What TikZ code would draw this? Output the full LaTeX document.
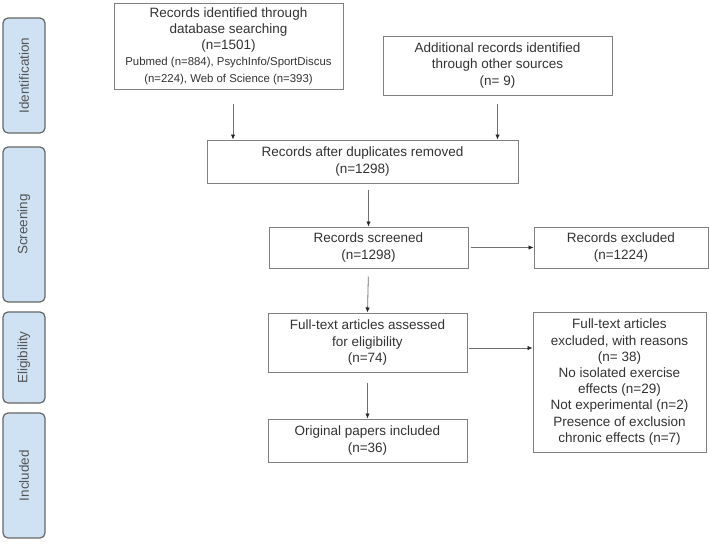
\documentclass[tikz,border=0pt]{standalone}
\usepackage{fontspec}
\setmainfont{Liberation Sans}
\usetikzlibrary{arrows.meta}
\definecolor{barblue}{HTML}{CFE2F3}
\definecolor{barline}{HTML}{666666}
\definecolor{bartxt}{HTML}{555555}
\definecolor{boxline}{HTML}{808080}
\definecolor{txt}{HTML}{333333}
\definecolor{arrline}{HTML}{707070}
\newcommand\mainf{\fontsize{13.5}{16.2}\selectfont}
\newcommand\smallf{\fontsize{11.4}{15.5}\selectfont}
\begin{document}
\begin{tikzpicture}[x=1pt,y=-1pt,
  box/.style={draw=boxline, line width=1pt, fill=white, text=txt, align=center, font=\mainf, inner sep=0pt},
  bar/.style={draw=barline, fill=barblue, line width=1.2pt, rounded corners=5pt, rotate=90, minimum height=42pt, inner sep=0pt, text=bartxt, font=\mainf},
  arr/.style={draw=arrline, line width=0.8pt, -{Latex[length=5pt,width=4.5pt,color=black!85]}}]
\useasboundingbox (0,0) rectangle (709,544);

\node[bar, minimum width=115pt] (idb) at (24,75.5) {Identification};
\node[bar, minimum width=155pt] (scb) at (24,224.5) {Screening};
\node[bar, minimum width=91pt] (elb) at (24,357.5) {Eligibility};
\node[bar, minimum width=125pt] (inb) at (24,475.5) {Included};

\node[box, minimum width=229pt, minimum height=86pt] (db) at (228.5,46)
  {Records identified through\\database searching\\(n=1501)\\{\smallf Pubmed (n=884), PsychInfo/SportDiscus}\\{\smallf (n=224), Web of Science (n=393)}};
\node[box, minimum width=229pt, minimum height=59pt] (add) at (497.5,65.5)
  {Additional records identified\\through other sources\\(n= 9)};
\node[box, minimum width=311pt, minimum height=43pt] (dup) at (362.5,161.5)
  {Records after duplicates removed\\(n=1298)};
\node[box, minimum width=199pt, minimum height=41pt] (scr) at (368.5,247.5)
  {Records screened\\(n=1298)};
\node[box, minimum width=174pt, minimum height=41pt] (exc) at (621,247.5)
  {Records excluded\\(n=1224)};
\node[box, minimum width=199pt, minimum height=59pt] (ft) at (367.5,342.5)
  {Full-text articles assessed\\for eligibility\\(n=74)};
\node[box, minimum width=173pt, minimum height=140pt] (ftx) at (619.5,382)
  {Full-text articles\\excluded, with reasons\\(n= 38)\\No isolated exercise\\effects (n=29)\\Not experimental (n=2)\\Presence of exclusion\\chronic effects (n=7)};
\node[box, minimum width=199pt, minimum height=43pt] (orig) at (367.5,440.5)
  {Original papers included\\(n=36)};

\draw[arr, shorten <=14pt] ([xshift=4.5pt]db.south) -- ([xshift=4.5pt]db.south |- dup.north);
\draw[arr, shorten <=8pt] (add.south) -- (add.south |- dup.north);
\draw[arr, shorten <=6pt] (scr.north |- dup.south) -- (scr.north);
\draw[arr, shorten <=8pt] (scr.south) -- (ft.north);
\draw[arr, shorten <=10pt] (ft.south) -- (orig.north);
\draw[arr, shorten <=2pt] (scr.east) -- (exc.west);
\draw[arr, shorten <=1pt] ([yshift=-5.5pt]ft.east) -- ([yshift=-5.5pt]ft.east -| ftx.west);
\end{tikzpicture}
\end{document}
